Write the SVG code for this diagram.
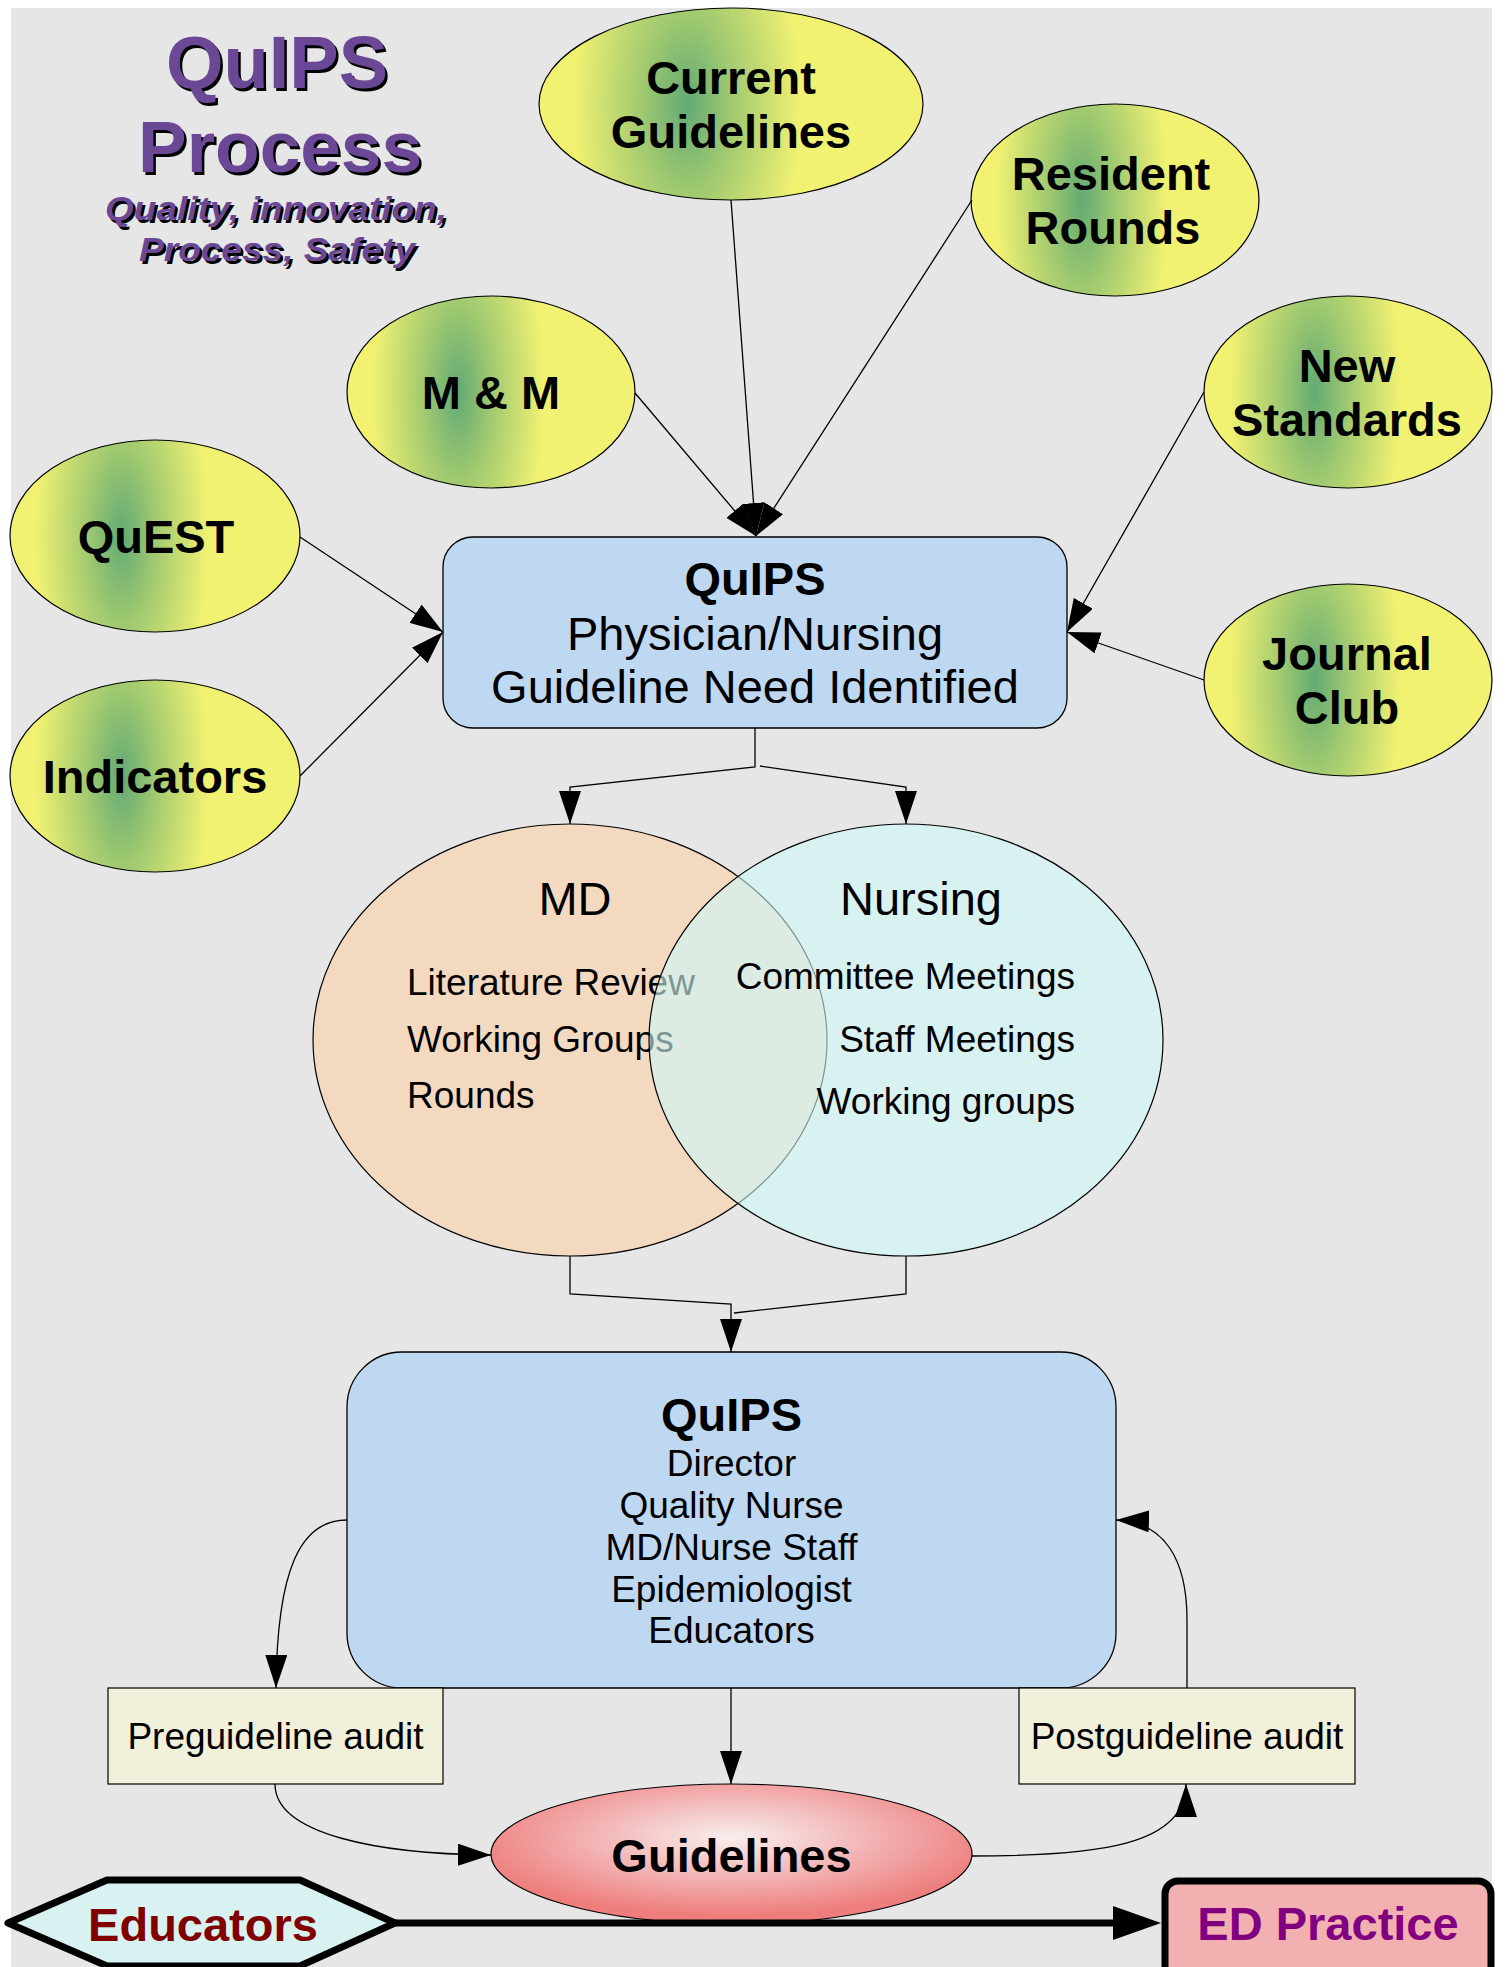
<svg xmlns="http://www.w3.org/2000/svg" width="1506" height="1967" viewBox="0 0 1506 1967">
  <defs>
    <style>
      .t { font-family: "Liberation Sans", Arial, sans-serif; font-size: 47px; font-weight: bold; text-anchor: middle; fill: #000; }
      .r { font-weight: normal; }
      .it { font-family: "Liberation Sans", Arial, sans-serif; font-size: 37px; fill: #000; }
      .title { font-family: "Liberation Sans", Arial, sans-serif; font-weight: bold; text-anchor: middle; }
      .yel { fill: url(#yg); stroke: #000; stroke-width: 1.2; }
      .conn { fill: none; stroke: #000; stroke-width: 1.3; }
      .audit { fill: #f1f0da; stroke: #000; stroke-width: 1.2; }
      .blue { fill: #bfd8f1; stroke: #000; stroke-width: 1.3; }
    </style>
    <radialGradient id="yg" cx="0.385" cy="0.5" r="0.5" gradientTransform="translate(0.385 0.5) scale(0.6 2.4) translate(-0.385 -0.5)">
      <stop offset="0" stop-color="#62aa74"/>
      <stop offset="0.4" stop-color="#a2ca70"/>
      <stop offset="1" stop-color="#f2f272"/>
    </radialGradient>
    <radialGradient id="pg" cx="0.5" cy="0.38" r="0.56">
      <stop offset="0" stop-color="#f8eeee"/>
      <stop offset="1" stop-color="#ee7d7d"/>
    </radialGradient>
    <marker id="ah" viewBox="0 0 33 22" refX="33" refY="11" markerWidth="33" markerHeight="22" markerUnits="userSpaceOnUse" orient="auto">
      <path d="M0,0 L33,11 L0,22 z" fill="#000"/>
    </marker>
    <marker id="ahBig" viewBox="0 0 48 34" refX="18" refY="17" markerWidth="48" markerHeight="34" markerUnits="userSpaceOnUse" orient="auto">
      <path d="M0,0 L48,17 L0,34 z" fill="#000"/>
    </marker>
  </defs>

  <rect x="0" y="0" width="1506" height="1967" fill="#ffffff"/>
  <rect x="11" y="8" width="1481" height="1959" fill="#e6e6e6"/>

  <!-- Title -->
  <g id="title">
    <g transform="translate(2.5 2.5)" fill="#000">
      <text class="title" x="277" y="88" font-size="74">QuIPS</text>
      <text class="title" x="280" y="172" font-size="73">Process</text>
      <text class="title" x="276" y="220" font-size="34" font-style="italic" textLength="342" lengthAdjust="spacingAndGlyphs">Quality, innovation,</text>
      <text class="title" x="277" y="261" font-size="34" font-style="italic" textLength="276" lengthAdjust="spacingAndGlyphs">Process, Safety</text>
    </g>
    <g fill="#6a4896">
      <text class="title" x="277" y="88" font-size="74">QuIPS</text>
      <text class="title" x="280" y="172" font-size="73">Process</text>
      <text class="title" x="276" y="220" font-size="34" font-style="italic" textLength="342" lengthAdjust="spacingAndGlyphs">Quality, innovation,</text>
      <text class="title" x="277" y="261" font-size="34" font-style="italic" textLength="276" lengthAdjust="spacingAndGlyphs">Process, Safety</text>
    </g>
  </g>

  <!-- Input nodes -->
  <g id="current-guidelines">
    <ellipse class="yel" cx="731" cy="104" rx="192" ry="96"/>
    <text class="t" x="731" y="94">Current</text>
    <text class="t" x="731" y="148">Guidelines</text>
  </g>
  <g id="resident-rounds">
    <ellipse class="yel" cx="1115" cy="200" rx="144" ry="96"/>
    <text class="t" x="1111" y="190">Resident</text>
    <text class="t" x="1113" y="244">Rounds</text>
  </g>
  <g id="new-standards">
    <ellipse class="yel" cx="1348" cy="392" rx="144" ry="96"/>
    <text class="t" x="1347" y="382">New</text>
    <text class="t" x="1347" y="436">Standards</text>
  </g>
  <g id="mm">
    <ellipse class="yel" cx="491" cy="392" rx="144" ry="96"/>
    <text class="t" x="491" y="409">M &amp; M</text>
  </g>
  <g id="quest">
    <ellipse class="yel" cx="155" cy="536" rx="145" ry="96"/>
    <text class="t" x="156" y="553">QuEST</text>
  </g>
  <g id="indicators">
    <ellipse class="yel" cx="155" cy="776" rx="145" ry="96"/>
    <text class="t" x="155" y="793">Indicators</text>
  </g>
  <g id="journal-club">
    <ellipse class="yel" cx="1348" cy="680" rx="144" ry="96"/>
    <text class="t" x="1347" y="670">Journal</text>
    <text class="t" x="1347" y="724">Club</text>
  </g>

  <!-- Need identified box -->
  <g id="need-identified">
    <rect class="blue" x="443" y="537" width="624" height="191" rx="30" ry="30"/>
    <text class="t" x="755" y="595">QuIPS</text>
    <text class="t r" x="755" y="650">Physician/Nursing</text>
    <text class="t r" x="755" y="703">Guideline Need Identified</text>
  </g>

  <!-- Venn -->
  <g id="md">
    <ellipse cx="570" cy="1040" rx="257" ry="216" fill="#f3d9c0" stroke="#000" stroke-width="1.2"/>
    <text class="t r" x="575" y="915">MD</text>
    <text class="it" x="407" y="995">Literature Review</text>
    <text class="it" x="407" y="1052">Working Groups</text>
    <text class="it" x="407" y="1108">Rounds</text>
  </g>
  <g id="nursing">
    <ellipse cx="906" cy="1040" rx="257" ry="216" fill="#cff8f8" fill-opacity="0.6" stroke="#000" stroke-width="1.2"/>
    <text class="t r" x="921" y="915">Nursing</text>
    <text class="it" x="1075" y="989" text-anchor="end">Committee Meetings</text>
    <text class="it" x="1075" y="1052" text-anchor="end">Staff Meetings</text>
    <text class="it" x="1075" y="1114" text-anchor="end">Working groups</text>
  </g>

  <!-- QuIPS team box -->
  <g id="quips-team">
    <rect class="blue" x="347" y="1352" width="769" height="336" rx="55" ry="55"/>
    <text class="t" x="731.5" y="1431">QuIPS</text>
    <text class="it" x="731.5" y="1476" text-anchor="middle">Director</text>
    <text class="it" x="731.5" y="1518" text-anchor="middle">Quality Nurse</text>
    <text class="it" x="731.5" y="1560" text-anchor="middle">MD/Nurse Staff</text>
    <text class="it" x="731.5" y="1602" text-anchor="middle">Epidemiologist</text>
    <text class="it" x="731.5" y="1643" text-anchor="middle">Educators</text>
  </g>

  <g id="preguideline">
    <rect class="audit" x="108" y="1688" width="335" height="96"/>
    <text class="it" x="275.5" y="1749" text-anchor="middle">Preguideline audit</text>
  </g>
  <g id="postguideline">
    <rect class="audit" x="1019" y="1688" width="336" height="96"/>
    <text class="it" x="1187" y="1749" text-anchor="middle">Postguideline audit</text>
  </g>

  <g id="guidelines">
    <ellipse cx="731.5" cy="1854" rx="240.5" ry="70" fill="url(#pg)" stroke="#000" stroke-width="1.2"/>
    <text class="t" x="731.5" y="1872">Guidelines</text>
  </g>

  <g id="educators">
    <polygon points="8,1923 107,1880 300,1880 395,1923 300,1966 107,1966" fill="#d8f1f1" stroke="#000" stroke-width="7" stroke-linejoin="round"/>
    <text class="t" x="203" y="1941" style="fill:#800000">Educators</text>
  </g>

  <g id="ed-practice">
    <rect x="1165" y="1881" width="326" height="110" rx="13" ry="13" fill="#f2b0b0" stroke="#000" stroke-width="7"/>
    <text class="t" x="1328" y="1940" style="fill:#800080">ED Practice</text>
  </g>

  <!-- Connectors -->
  <g id="connectors">
    <path class="conn" d="M635,393 L756,536" marker-end="url(#ah)"/>
    <path class="conn" d="M731,200 L756,536" marker-end="url(#ah)"/>
    <path class="conn" d="M972,200 L756,536" marker-end="url(#ah)"/>
    <path class="conn" d="M300,537 L443,632" marker-end="url(#ah)"/>
    <path class="conn" d="M300,776 L443,632" marker-end="url(#ah)"/>
    <path class="conn" d="M1204,392 L1067,632" marker-end="url(#ah)"/>
    <path class="conn" d="M1204,680 L1067,632" marker-end="url(#ah)"/>
    <path class="conn" d="M755,728 V767 L570,787 V824" marker-end="url(#ah)"/>
    <path class="conn" d="M760,766 L906,787 V824" marker-end="url(#ah)"/>
    <path class="conn" d="M570,1256 V1294 L731,1304 V1352" marker-end="url(#ah)"/>
    <path class="conn" d="M906,1256 V1294 L734,1313"/>
    <path class="conn" d="M731,1688 V1784" marker-end="url(#ah)"/>
    <path class="conn" d="M347,1520 C300,1520 277,1570 276,1688" marker-end="url(#ah)"/>
    <path class="conn" d="M275,1784 C275,1835 380,1854 491,1855" marker-end="url(#ah)"/>
    <path class="conn" d="M972,1856 C1100,1856 1186,1845 1186,1784" marker-end="url(#ah)"/>
    <path class="conn" d="M1187,1688 V1620 C1187,1560 1165,1522 1116,1520" marker-end="url(#ah)"/>
    <path d="M395,1923 L1131,1923" fill="none" stroke="#000" stroke-width="7" marker-end="url(#ahBig)"/>
  </g>
</svg>
